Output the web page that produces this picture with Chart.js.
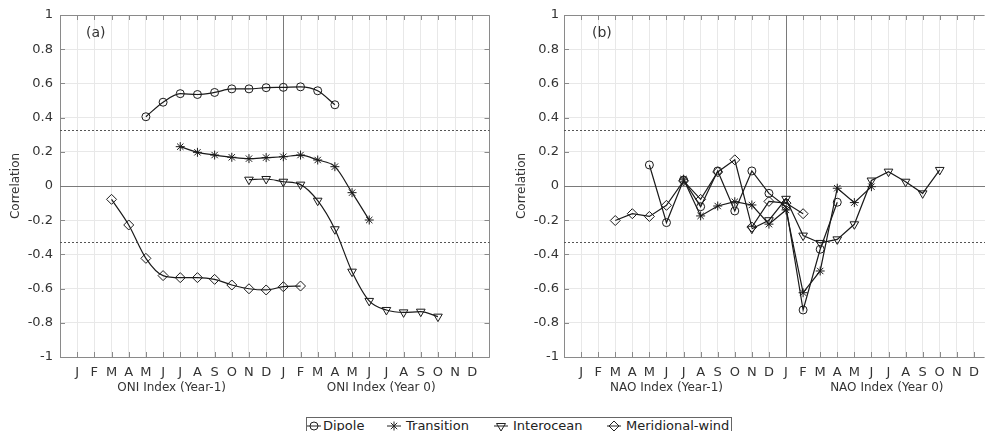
<!DOCTYPE html>
<html>
<head>
<meta charset="utf-8">
<script src="https://cdn.jsdelivr.net/npm/chart.js@4.4.1/dist/chart.umd.min.js"></script>
<style>
  body { margin: 0; background: #fff; width: 991px; height: 431px; overflow: hidden; position: relative; font-family: "DejaVu Sans", sans-serif; }
  #chartA { position: absolute; left: 0; top: 0; }
  #chartB { position: absolute; left: 500px; top: 0; }
  #legend { position: absolute; left: 306px; top: 417px; width: 426px; height: 18px; border: 1px solid #666; box-sizing: border-box; background: #fff; }
  #legend svg, #legend span { position: absolute; top: 1px; }
  #legend span { font-size: 13px; line-height: 14px; color: #222; white-space: nowrap; }
</style>
</head>
<body>
<canvas id="chartA" width="500" height="400"></canvas>
<canvas id="chartB" width="491" height="400"></canvas>
<div id="legend">
  <svg style="left:0" width="14" height="14"><line x1="0" y1="7" x2="14" y2="7" stroke="#222"/><circle cx="7" cy="7" r="4" fill="none" stroke="#222"/></svg>
  <span style="left:16px">Dipole</span>
  <svg style="left:80px" width="14" height="14"><line x1="0" y1="7" x2="14" y2="7" stroke="#222"/><line x1="7" y1="2.5" x2="7" y2="11.5" stroke="#222"/><line x1="3.8" y1="3.8" x2="10.2" y2="10.2" stroke="#222"/><line x1="3.8" y1="10.2" x2="10.2" y2="3.8" stroke="#222"/></svg>
  <span style="left:99px">Transition</span>
  <svg style="left:187px" width="14" height="14"><line x1="0" y1="7" x2="14" y2="7" stroke="#222"/><polygon points="2.5,4.5 11.5,4.5 7,12" fill="none" stroke="#222"/></svg>
  <span style="left:206px">Interocean</span>
  <svg style="left:300px" width="14" height="14"><line x1="0" y1="7" x2="14" y2="7" stroke="#222"/><polygon points="7,2 12,7 7,12 2,7" fill="none" stroke="#222"/></svg>
  <span style="left:319px">Meridional-wind</span>
</div>
<script>
// months J..D of Year-1 then Year 0 (x positions 1..24)
const monthLetters = ['J', 'F', 'M', 'A', 'M', 'J', 'J', 'A', 'S', 'O', 'N', 'D'];
const seriesNames = ['Dipole', 'Transition', 'Interocean', 'Meridional-wind'];
const yTicks = [-1, -0.8, -0.6, -0.4, -0.2, 0, 0.2, 0.4, 0.6, 0.8, 1];
const significance = 0.33;

// panel (a): ONI index
const oniDipole = [null, null, null, null, 0.405, 0.49, 0.54, 0.535, 0.547, 0.568, 0.568, 0.575,
                   0.577, 0.58, 0.557, 0.475, null, null, null, null, null, null, null, null];
const oniTransition = [null, null, null, null, null, null, 0.23, 0.197, 0.181, 0.168, 0.16, 0.166,
                       0.171, 0.181, 0.152, 0.113, -0.039, -0.199, null, null, null, null, null, null];
const oniInterocean = [null, null, null, null, null, null, null, null, null, null, 0.037, 0.041,
                       0.025, 0.008, -0.086, -0.253, -0.501, -0.672, -0.725, -0.739, -0.735, -0.764, null, null];
const oniMeridional = [null, null, -0.078, -0.228, -0.423, -0.524, -0.536, -0.536, -0.546, -0.579, -0.601, -0.608,
                       -0.589, -0.585, null, null, null, null, null, null, null, null, null, null];

// panel (b): NAO index
const naoDipole = [null, null, null, null, 0.123, -0.214, 0.035, -0.121, 0.088, -0.146, 0.088, -0.043,
                   -0.12, -0.725, -0.37, -0.095, null, null, null, null, null, null, null, null];
const naoTransition = [null, null, null, null, null, null, 0.04, -0.175, -0.117, -0.092, -0.111, -0.223,
                       -0.14, -0.624, -0.497, -0.013, -0.097, -0.004, null, null, null, null, null, null];
const naoInterocean = [null, null, null, null, null, null, null, null, null, null, -0.25, -0.2,
                       -0.075, -0.29, -0.333, -0.312, -0.224, 0.032, 0.084, 0.025, -0.043, 0.094, null, null];
const naoMeridional = [null, null, -0.202, -0.162, -0.178, -0.113, 0.03, -0.078, 0.082, 0.153, -0.24, -0.09,
                       -0.1, -0.162, null, null, null, null, null, null, null, null, null, null];

const markerStyles = {
  'Dipole': { pointStyle: 'circle', pointRadius: 4 },
  'Transition': { pointStyle: 'star', pointRadius: 4.5 },
  'Interocean': { pointStyle: 'triangle', pointRadius: 5, pointRotation: 180 },
  'Meridional-wind': { pointStyle: 'rectRot', pointRadius: 5 }
};

function toPoints(values) {
  return values.map((v, i) => ({ x: i + 1, y: v })).filter(p => p.y !== null);
}

// box, inward ticks, reference lines, panel letter and the two x titles
const panelDeco = {
  id: 'panelDeco',
  beforeDatasetsDraw(chart, args, o) {
    const { ctx, chartArea: a, scales: { x, y } } = chart;
    ctx.save();
    ctx.lineWidth = 1;
    // inward ticks
    ctx.strokeStyle = '#8a8a8a';
    ctx.beginPath();
    for (let m = 1; m <= 24; m++) {
      const px = Math.round(x.getPixelForValue(m)) + 0.5;
      ctx.moveTo(px, a.top); ctx.lineTo(px, a.top + 5);
      ctx.moveTo(px, a.bottom); ctx.lineTo(px, a.bottom - 5);
    }
    yTicks.forEach(t => {
      const py = Math.round(y.getPixelForValue(t)) + 0.5;
      ctx.moveTo(a.left, py); ctx.lineTo(a.left + 5, py);
      if (o.rightBorder) { ctx.moveTo(a.right, py); ctx.lineTo(a.right - 5, py); }
    });
    ctx.stroke();
    // box
    ctx.beginPath();
    const l = Math.round(a.left) + 0.5, t = Math.round(a.top) + 0.5, b = Math.round(a.bottom) + 0.5, r = Math.round(a.right) - 0.5;
    ctx.moveTo(r, t); ctx.lineTo(l, t); ctx.lineTo(l, b); ctx.lineTo(r, b);
    if (o.rightBorder) { ctx.moveTo(r, t); ctx.lineTo(r, b); }
    ctx.stroke();
    // zero line and year boundary
    ctx.strokeStyle = '#7a7a7a';
    ctx.beginPath();
    const y0 = Math.round(y.getPixelForValue(0)) + 0.5;
    ctx.moveTo(a.left, y0); ctx.lineTo(a.right, y0);
    const xj = Math.round(x.getPixelForValue(13)) + 0.5;
    ctx.moveTo(xj, a.top); ctx.lineTo(xj, a.bottom);
    ctx.stroke();
    // significance levels
    ctx.strokeStyle = '#555';
    ctx.setLineDash([2, 2]);
    ctx.beginPath();
    [significance, -significance].forEach(s => {
      const py = Math.round(y.getPixelForValue(s)) + 0.5;
      ctx.moveTo(a.left, py); ctx.lineTo(a.right, py);
    });
    ctx.stroke();
    ctx.restore();
  },
  afterDraw(chart, args, o) {
    const { ctx, chartArea: a, scales: { x } } = chart;
    ctx.save();
    ctx.fillStyle = '#333';
    ctx.font = '14px "DejaVu Sans", sans-serif';
    ctx.textBaseline = 'middle';
    ctx.textAlign = 'left';
    ctx.fillText(o.letter, a.left + o.letterDx, 33);
    ctx.font = '12px "DejaVu Sans", sans-serif';
    ctx.textAlign = 'center';
    ctx.fillText(o.titles[0], x.getPixelForValue(o.titlePos[0]), 388);
    ctx.fillText(o.titles[1], x.getPixelForValue(o.titlePos[1]), 388);
    ctx.restore();
  }
};

function makeChart(id, seriesValues, opts) {
  const datasets = seriesNames.map((name, i) => Object.assign({
    label: name,
    data: toPoints(seriesValues[i]),
    borderColor: '#1a1a1a',
    backgroundColor: 'rgba(0,0,0,0)',
    borderWidth: 1.2,
    pointBorderWidth: 1,
    pointBorderColor: '#1a1a1a',
    pointBackgroundColor: 'rgba(0,0,0,0)',
    cubicInterpolationMode: opts.smooth ? 'monotone' : 'default',
    tension: opts.smooth ? 0.4 : 0
  }, markerStyles[name]));

  return new Chart(document.getElementById(id), {
    type: 'line',
    data: { datasets },
    plugins: [panelDeco],
    options: {
      responsive: false,
      animation: false,
      devicePixelRatio: 1,
      layout: { padding: { top: 15, right: opts.padRight, bottom: 0, left: 0 } },
      plugins: {
        legend: { display: false },
        tooltip: { enabled: false },
        panelDeco: opts.deco
      },
      scales: {
        x: {
          type: 'linear',
          min: 0,
          max: opts.xMax,
          afterFit(s) { s.height = 43; },
          border: { display: false },
          grid: { color: '#e8e8e8', drawTicks: false },
          ticks: {
            stepSize: 1,
            autoSkip: false,
            maxRotation: 0,
            includeBounds: false,
            padding: 8,
            color: '#333',
            font: { family: 'DejaVu Sans', size: 13 },
            callback: v => (Number.isInteger(v) && v >= 1 && v <= 24) ? monthLetters[(v - 1) % 12] : ''
          }
        },
        y: {
          min: -1,
          max: 1,
          afterFit(s) { s.width = opts.yWidth; },
          afterBuildTicks(s) { s.ticks = yTicks.map(v => ({ value: v })); },
          border: { display: false },
          grid: { color: '#e8e8e8', drawTicks: false },
          title: {
            display: true,
            text: 'Correlation',
            color: '#333',
            font: { family: 'DejaVu Sans', size: 12 },
            padding: { top: opts.titlePad, bottom: 0 }
          },
          ticks: {
            padding: opts.yTickPad,
            color: '#333',
            font: { family: 'DejaVu Sans', size: 13 },
            callback: v => { const r = Math.round(v * 10) / 10; return r === 0 ? '0' : String(r); }
          }
        }
      }
    }
  });
}

makeChart('chartA', [oniDipole, oniTransition, oniInterocean, oniMeridional], {
  smooth: true, xMax: 25, padRight: 10.5, yWidth: 60, titlePad: 9, yTickPad: 7,
  deco: { letter: '(a)', letterDx: 26, titles: ['ONI Index (Year-1)', 'ONI Index (Year 0)'], titlePos: [6.5, 18.7], rightBorder: true }
});
makeChart('chartB', [naoDipole, naoTransition, naoInterocean, naoMeridional], {
  smooth: false, xMax: 24.65, padRight: 0, yWidth: 64, titlePad: 15, yTickPad: 5,
  deco: { letter: '(b)', letterDx: 28, titles: ['NAO Index (Year-1)', 'NAO Index (Year 0)'], titlePos: [6.0, 18.9], rightBorder: false }
});
</script>
</body>
</html>
